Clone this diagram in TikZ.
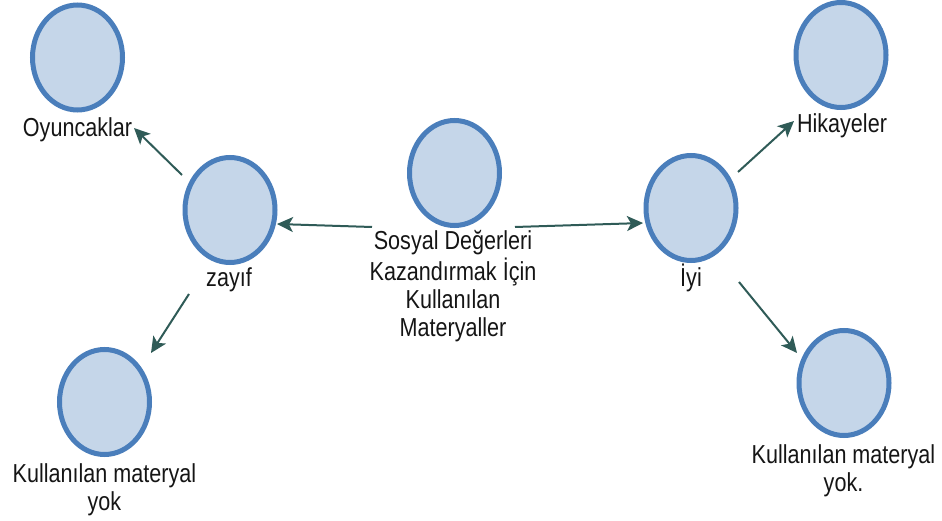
\documentclass[tikz,border=0pt]{standalone}
\usepackage{fontspec}
\setmainfont[FakeStretch=0.83]{Liberation Sans}
\usetikzlibrary{shapes.geometric,arrows.meta,calc}
\definecolor{cfill}{HTML}{C5D6E9}
\definecolor{cedge}{HTML}{4A7EBB}
\definecolor{carr}{HTML}{2F5B57}
\definecolor{ctext}{HTML}{151515}
\begin{document}
\begin{tikzpicture}[x=1pt,y=-1pt,
  bubble/.style={ellipse, draw=cedge, fill=cfill, line width=5pt,
    minimum width=90pt, minimum height=105pt, inner sep=0pt},
  lab/.style={anchor=base, inner sep=0pt, text=ctext,
    font=\fontsize{26}{28}\selectfont},
  arr/.style={draw=carr, line width=2pt,
    -{Stealth[length=16pt,width=15pt,inset=4pt]}}]
\useasboundingbox (0,0) rectangle (942,521);
% circles
\node[bubble] (c0) at (454.5,173) {};
\node[bubble] (c1) at (230,210) {};
\node[bubble] (c2) at (691,208) {};
\node[bubble] (c3) at (77.5,57.5) {};
\node[bubble] (c4) at (841,55) {};
\node[bubble] (c5) at (104.5,402) {};
\node[bubble] (c6) at (844,383) {};
% labels
\node[lab] (l0) at (453,250) {\begin{tabular}[t]{@{}c@{}}Sosyal Değerleri\\Kazandırmak İçin\\Kullanılan\\Materyaller\end{tabular}};
\node[lab] (l1) at (229,287) {zayıf};
\node[lab] (l2) at (691,287) {İyi};
\node[lab] (l3) at (77.5,137) {Oyuncaklar};
\node[lab] (l4) at (842,133) {Hikayeler};
\node[lab] (l5) at (104.5,482) {\begin{tabular}[t]{@{}c@{}}Kullanılan materyal\\yok\end{tabular}};
\node[lab] (l6) at (843.5,463) {\begin{tabular}[t]{@{}c@{}}Kullanılan materyal\\yok.\end{tabular}};
% connectors
\draw[arr] ($(c0.center)+(-82.5,54)$) -- ($(c1.center)+(47,14)$);
\draw[arr] ($(c0.center)+(60.5,54)$) -- ($(c2.center)+(-48,15)$);
\draw[arr] ($(c1.center)+(-48,-35)$) -- ($(c3.center)+(56.5,70.5)$);
\draw[arr] ($(c1.center)+(-41,84)$) -- ($(c5.center)+(46.5,-49)$);
\draw[arr] ($(c2.center)+(47,-36)$) -- ($(c4.center)+(-47,66)$);
\draw[arr] ($(c2.center)+(48,74)$) -- ($(c6.center)+(-47,-30)$);
\end{tikzpicture}
\end{document}
